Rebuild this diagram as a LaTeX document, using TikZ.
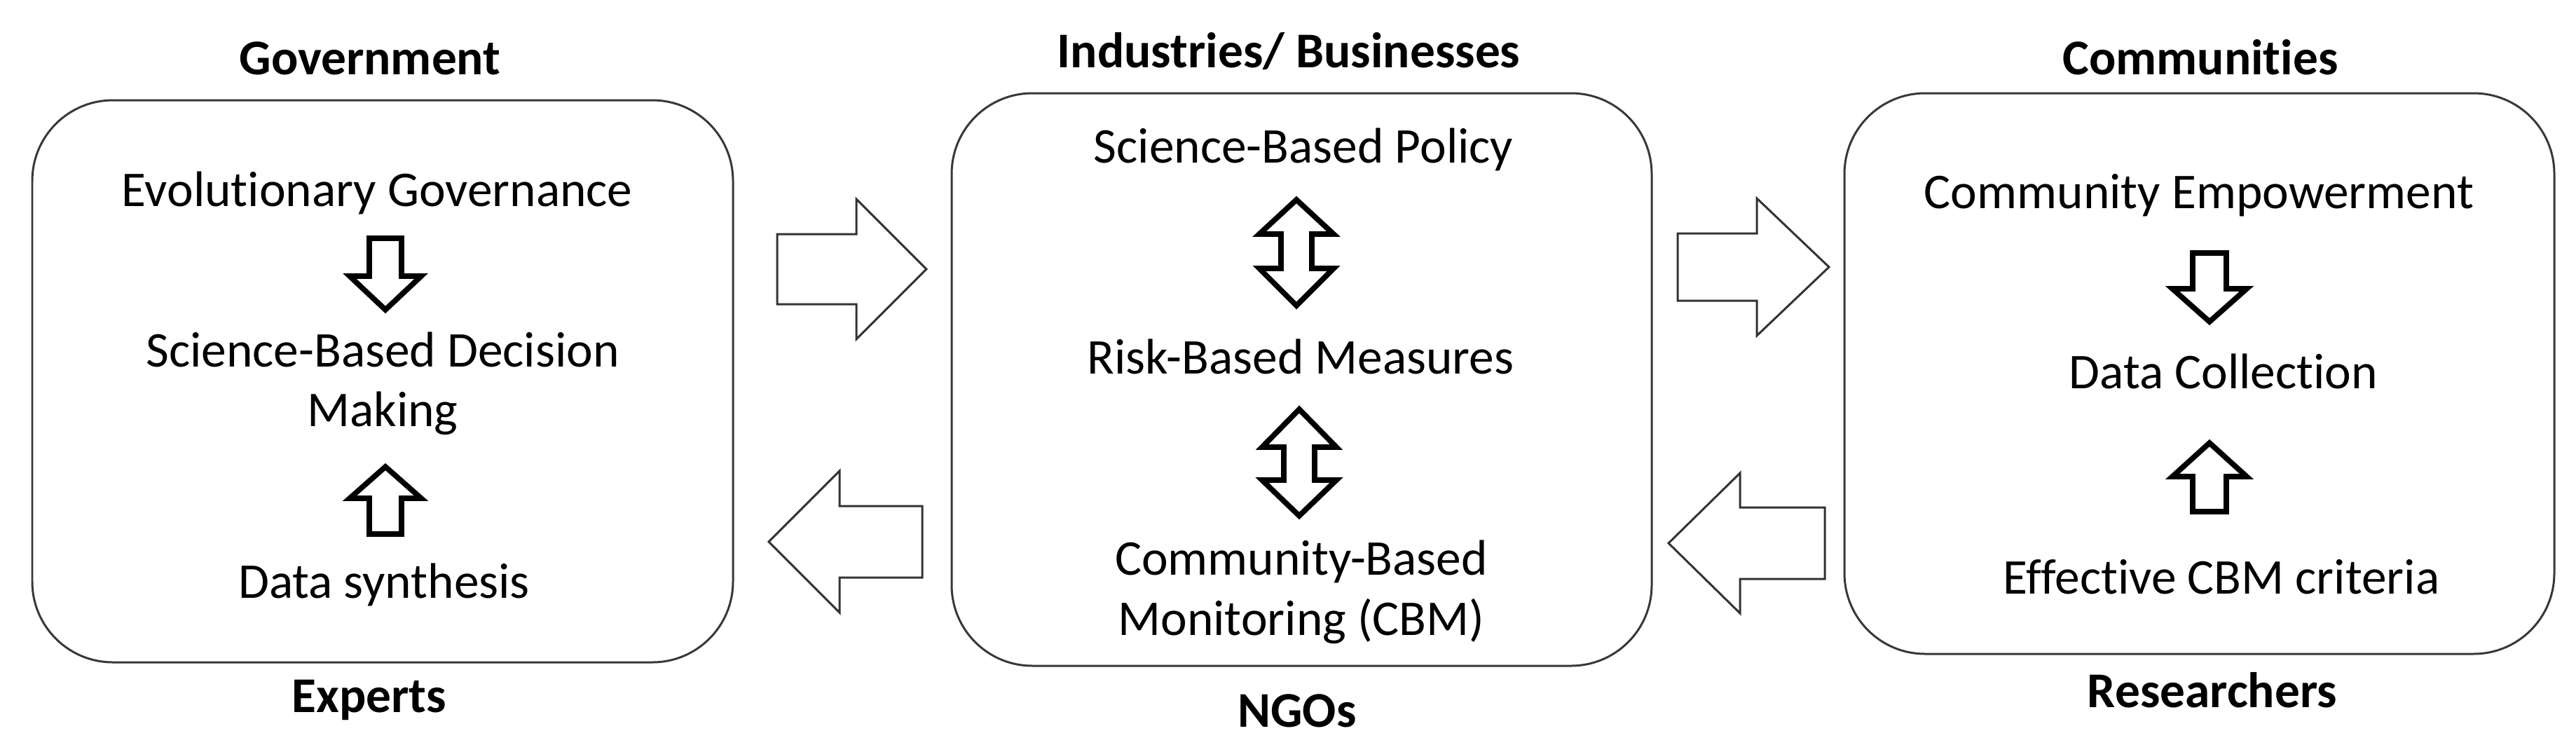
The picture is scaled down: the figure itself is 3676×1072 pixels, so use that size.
\documentclass[tikz,border=0pt]{standalone}
\usepackage{fontspec}
\setmainfont{Carlito}[Ligatures={NoCommon}]
\definecolor{boxgray}{HTML}{383838}
\definecolor{arrowgray}{HTML}{333333}
\newcommand\varrow[7]{\draw[#1] ({#2-#6},#3) -- ({#2+#6},#3) -- ({#2+#6},#4) -- ({#2+#7},#4) -- (#2,#5) -- ({#2-#7},#4) -- ({#2-#6},#4) -- cycle;}
\newcommand\harrow[7]{\draw[#1] (#3,{#2-#6}) -- (#4,{#2-#6}) -- (#4,{#2-#7}) -- (#5,#2) -- (#4,{#2+#7}) -- (#4,{#2+#6}) -- (#3,{#2+#6}) -- cycle;}
\newcommand\darrow[8]{\draw[#1] (#2,#3) -- ({#2+#8},#4) -- ({#2+#7},#4) -- ({#2+#7},#5) -- ({#2+#8},#5) -- (#2,#6) -- ({#2-#8},#5) -- ({#2-#7},#5) -- ({#2-#7},#4) -- ({#2-#8},#4) -- cycle;}
\begin{document}
\begin{tikzpicture}[x=0.01cm,y=-0.01cm,
  panel/.style={draw=boxgray, line width=0.85pt, rounded corners=1.15cm},
  txt/.style={anchor=base, inner sep=0pt, font=\fontsize{20.3}{24}\selectfont},
  hdr/.style={anchor=base, inner sep=0pt, font=\fontsize{20.3}{24}\selectfont\bfseries},
  inarrow/.style={draw=black, line width=2.2pt, fill=white, miter limit=10},
  outarrow/.style={draw=arrowgray, line width=0.85pt, fill=white}]
\useasboundingbox (0,0) rectangle (3676,1072);

% panels
\draw[panel] (46,143) rectangle (1046,945);
\draw[panel] (1358,133) rectangle (2357,950);
\draw[panel] (2632,133) rectangle (3645,933);

% headers / footers
\node[hdr] (gov) at (528,106) {Government};
\node[hdr] (exp) at (527,1016) {Experts};
\node[hdr] (ind) at (1839,96) {Industries/ Businesses};
\node[hdr] (ngo) at (1851,1037) {NGOs};
\node[hdr] (com) at (3140,106) {Communities};
\node[hdr] (res) at (3157,1009) {Researchers};

% left panel texts
\node[txt] (evo) at (538,294) {Evolutionary Governance};
\node[txt] (sbd) at (546,523) {Science-Based Decision};
\node[txt] (mak) at (546,608) {Making};
\node[txt] (dsy) at (548,853) {Data synthesis};

% middle panel texts
\node[txt] (sbp) at (1860,232) {Science-Based Policy};
\node[txt] (rbm) at (1856,533) {Risk-Based Measures};
\node[txt] (cbm1) at (1857,820) {Community-Based};
\node[txt] (cbm2) at (1857,906) {Monitoring (CBM)};

% right panel texts
\node[txt] (cem) at (3138,297) {Community Empowerment};
\node[txt] (dco) at (3173,554) {Data Collection};
\node[txt] (eff) at (3170,847) {Effective CBM criteria};

% inner arrows
\varrow{inarrow}{550}{340}{394}{442}{23}{51}
\varrow{inarrow}{550}{762}{711}{666}{23}{51}
\darrow{inarrow}{1850}{285}{334}{383}{436}{22}{53}
\darrow{inarrow}{1854}{584}{638}{685}{736}{22}{53}
\varrow{inarrow}{3153}{361}{412}{459}{24}{53}
\varrow{inarrow}{3153}{730}{680}{632}{24}{53}

% outer arrows
\harrow{outarrow}{384}{1109}{1222}{1322}{50}{100}
\harrow{outarrow}{773}{1316}{1198}{1097}{51}{101}
\harrow{outarrow}{381}{2394}{2507}{2610}{48}{98}
\harrow{outarrow}{775}{2604}{2483}{2381}{51}{100}
\end{tikzpicture}
\end{document}
